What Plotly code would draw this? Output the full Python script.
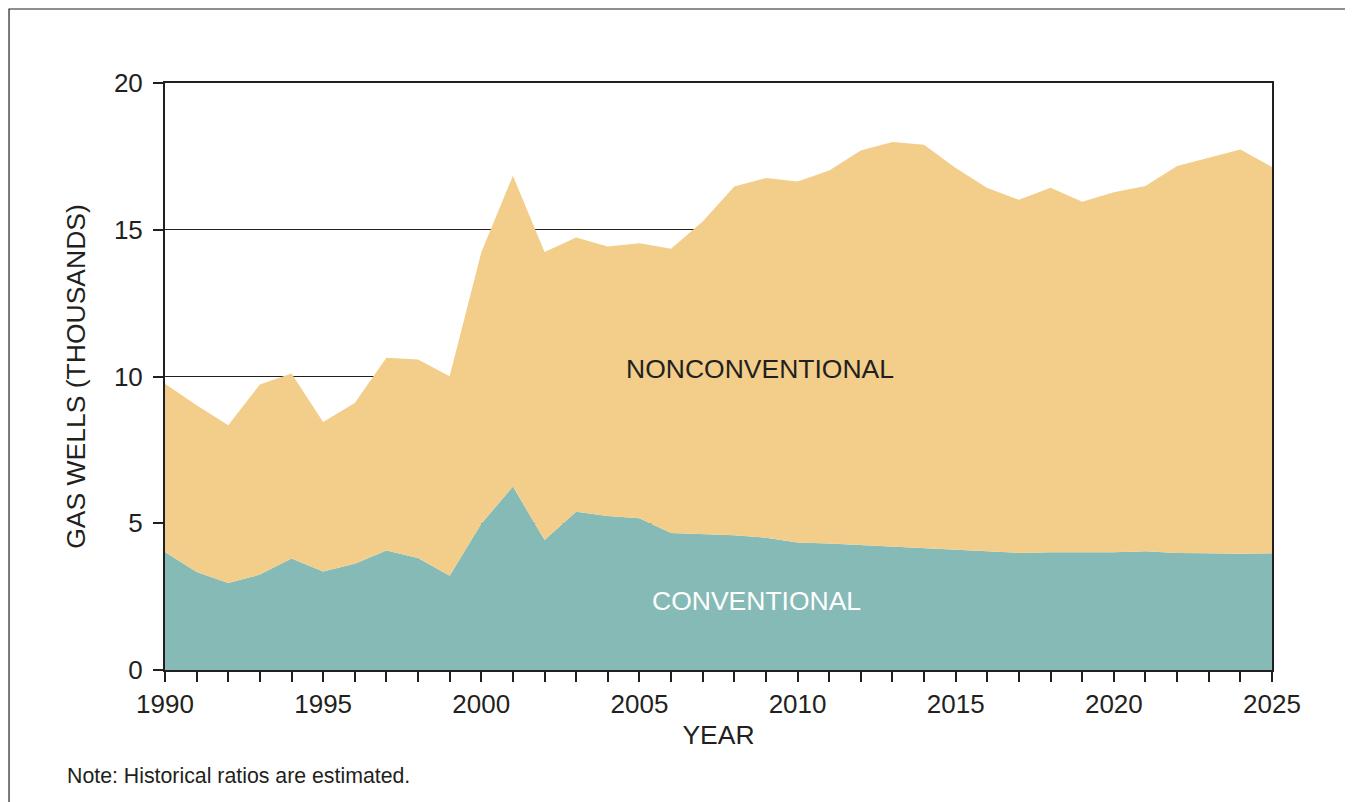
import plotly.graph_objects as go

years = list(range(1990, 2026))
conventional = [4.02, 3.34, 2.96, 3.25, 3.80, 3.36, 3.62, 4.07, 3.82, 3.21,
                4.98, 6.25, 4.43, 5.39, 5.25, 5.17, 4.67, 4.64, 4.59, 4.51,
                4.34, 4.31, 4.26, 4.21, 4.14, 4.10, 4.05, 3.99, 4.01, 4.01,
                4.01, 4.05, 3.99, 3.98, 3.96, 3.98]
nonconventional = [5.73, 5.68, 5.38, 6.48, 6.30, 5.09, 5.48, 6.57, 6.76, 6.80,
                   9.25, 10.59, 9.81, 9.35, 9.18, 9.37, 9.68, 10.64, 11.88, 12.25,
                   12.30, 12.71, 13.44, 13.78, 13.76, 13.00, 12.37, 12.03, 12.42, 11.94,
                   12.27, 12.44, 13.18, 13.48, 13.77, 13.16]
x_ticks = [1990, 1995, 2000, 2005, 2010, 2015, 2020, 2025]
y_ticks = [0, 5, 10, 15, 20]

INK = "#231f20"
FONT = "Liberation Sans, Arial, sans-serif"

fig = go.Figure()
fig.add_trace(go.Scatter(x=years, y=conventional, name="CONVENTIONAL", stackgroup="wells",
                         mode="lines", line=dict(width=0, color="#85bab7"),
                         fillcolor="#85bab7"))
fig.add_trace(go.Scatter(x=years, y=nonconventional, name="NONCONVENTIONAL", stackgroup="wells",
                         mode="lines", line=dict(width=0, color="#f2ce8a"),
                         fillcolor="#f2ce8a"))

fig.update_layout(
    width=1345, height=794,
    margin=dict(l=157, r=81, t=75, b=132),
    paper_bgcolor="white", plot_bgcolor="white",
    showlegend=False,
    font=dict(family=FONT, size=26, color=INK),
    xaxis=dict(range=[1990, 2025], tickvals=x_ticks, ticks="outside", ticklen=10,
               tickwidth=1.5, tickcolor=INK, showline=True, linewidth=2, linecolor=INK,
               mirror=True, showgrid=False, zeroline=False,
               minor=dict(dtick=1, ticks="outside", ticklen=10, tickwidth=1.5,
                          tickcolor=INK, showgrid=False),
               title=dict(text="YEAR", standoff=7, font=dict(size=26.5)),
               tickfont=dict(size=26)),
    yaxis=dict(range=[0, 20], tickvals=y_ticks, ticks="outside", ticklen=10,
               tickwidth=1.5, tickcolor=INK, showline=True, linewidth=2, linecolor=INK,
               mirror=True, showgrid=True, gridcolor=INK, gridwidth=1.3, zeroline=False,
               ticklabelstandoff=5,
               title=dict(text="GAS WELLS (THOUSANDS)", standoff=21, font=dict(size=26.5)),
               tickfont=dict(size=26)),
    annotations=[
        dict(x=2008.8, y=10.26, xref="x", yref="y", text="NONCONVENTIONAL",
             showarrow=False, font=dict(size=26.5, color=INK)),
        dict(x=2008.7, y=2.35, xref="x", yref="y", text="CONVENTIONAL",
             showarrow=False, font=dict(size=26.5, color="white")),
        dict(x=-0.0903, y=-0.1806, xref="paper", yref="paper", text="Note: Historical ratios are estimated.",
             showarrow=False, xanchor="left", yanchor="middle", font=dict(size=21.3, color=INK)),
    ],
    shapes=[
        dict(type="rect", xref="paper", yref="paper",
             x0=-0.1409, x1=1.0714, y0=-0.26, y1=1.1261,
             line=dict(color=INK, width=1.2), fillcolor="rgba(0,0,0,0)", layer="below"),
    ],
)

fig.write_html("out.html")
